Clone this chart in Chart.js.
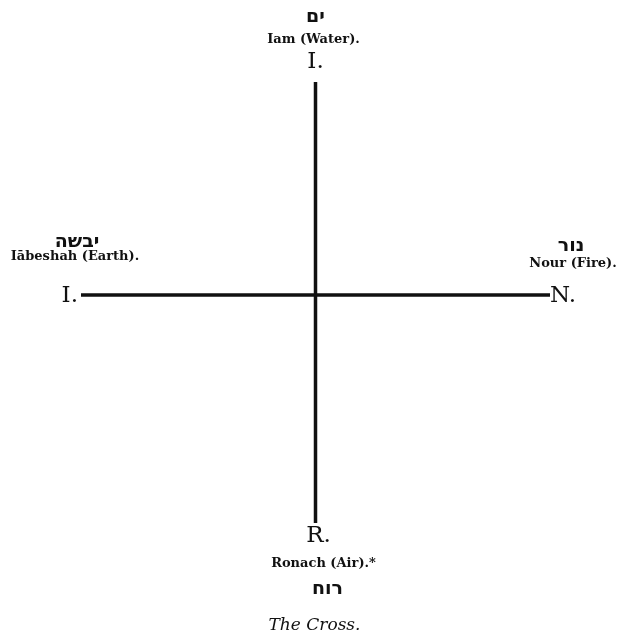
<!DOCTYPE html>
<html>
<head>
<meta charset="utf-8">
<title>The Cross</title>
<script src="https://cdn.jsdelivr.net/npm/chart.js@4"></script>
<style>
  html, body { margin: 0; padding: 0; background: #fff; }
  #wrap { width: 621px; height: 637px; }
</style>
</head>
<body>
<div id="wrap"><canvas id="cross" width="621" height="637"></canvas></div>
<script>
// arms of the cross: top, right, bottom, left (data units, centre = 0,0)
const armX = [0, 1, 0, -1];
const armY = [1, 0, -1.07, 0];
const armLetters = ['I.', 'N.', 'R.', 'I.'];
const armNames = ['Iam (Water).', 'Nour (Fire).', 'Ronach (Air).*', 'Iābeshah (Earth).'];
const armHebrew = ['ים', 'נור', 'רוח', 'יבשה'];
const caption = 'The Cross.';

// label offsets from the arm end, in pixels: [letter, name, hebrew]
const labelPlace = [
  { letter: [0, -20, 'center'], name: [-2, -42], heb: [0, -65] },
  { letter: [0, 1, 'left'], name: [23, -31], heb: [21, -49] },
  { letter: [3, 13, 'center'], name: [8, 41], heb: [12, 66] },
  { letter: [-3, 1, 'right'], name: [-6, -38], heb: [-4, -53] }
];

const crossLabels = {
  id: 'crossLabels',
  afterDraw(chart) {
    const { ctx, scales } = chart;
    ctx.save();
    ctx.fillStyle = '#111';
    ctx.textBaseline = 'middle';
    armX.forEach((ax, i) => {
      const px = scales.x.getPixelForValue(ax);
      const py = scales.y.getPixelForValue(armY[i]);
      const p = labelPlace[i];

      ctx.font = '23px "DejaVu Serif"';
      ctx.textAlign = p.letter[2];
      ctx.fillText(armLetters[i], px + p.letter[0], py + p.letter[1]);

      ctx.textAlign = 'center';
      ctx.font = 'bold 13px "DejaVu Serif"';
      ctx.fillText(armNames[i], px + p.name[0], py + p.name[1]);

      ctx.font = 'bold 19px "DejaVu Sans"';
      ctx.fillText(armHebrew[i], px + p.heb[0], py + p.heb[1]);
    });
    // caption under the bottom arm
    const cx = scales.x.getPixelForValue(0);
    const cy = scales.y.getPixelForValue(armY[2]);
    ctx.font = 'italic 17px "DejaVu Serif"';
    ctx.textAlign = 'center';
    ctx.fillText(caption, cx - 1, cy + 103);
    ctx.restore();
  }
};

new Chart(document.getElementById('cross'), {
  type: 'scatter',
  data: {
    datasets: [
      { data: [{ x: armX[3], y: armY[3] }, { x: armX[1], y: armY[1] }] },
      { data: [{ x: armX[0], y: armY[0] }, { x: armX[2], y: armY[2] }] }
    ].map(d => Object.assign(d, {
      showLine: true,
      borderColor: '#111',
      borderWidth: 3.5,
      pointRadius: 0,
      borderCapStyle: 'butt'
    }))
  },
  options: {
    responsive: false,
    devicePixelRatio: 1,
    animation: false,
    layout: { padding: { left: 81, right: 71, top: 82, bottom: 114 } },
    plugins: { legend: { display: false }, tooltip: { enabled: false } },
    scales: {
      x: { type: 'linear', min: -1, max: 1, display: false },
      y: { type: 'linear', min: -1.07, max: 1, display: false }
    }
  },
  plugins: [crossLabels]
});
</script>
</body>
</html>
